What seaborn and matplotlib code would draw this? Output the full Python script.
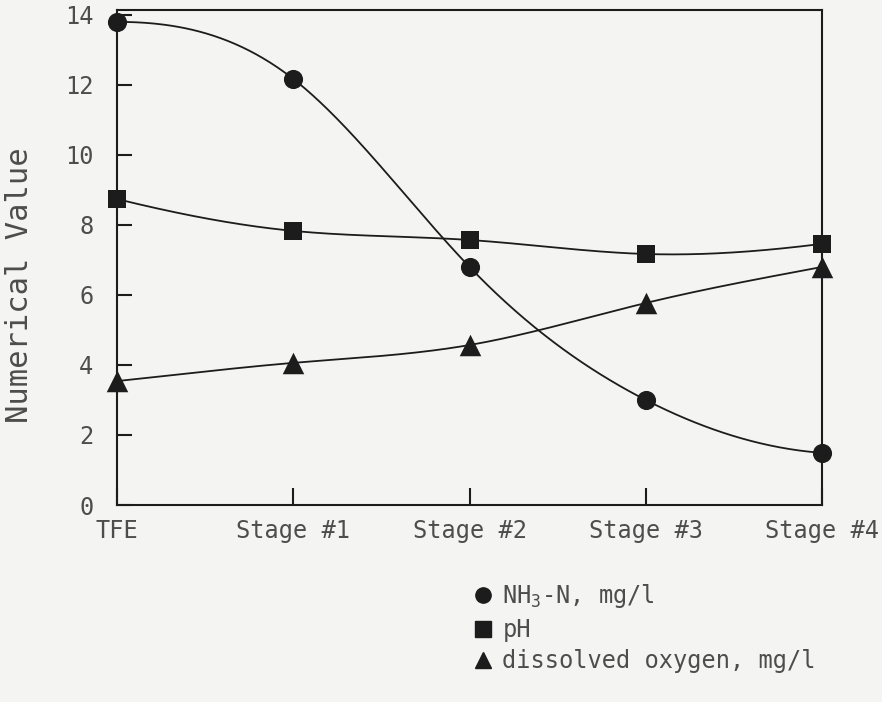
import numpy as np
import matplotlib
matplotlib.use("Agg")
import matplotlib.pyplot as plt
from matplotlib.lines import Line2D
import seaborn as sns

# Data
stages = ["TFE", "Stage #1", "Stage #2", "Stage #3", "Stage #4"]
nh3_n = [13.8, 12.17, 6.8, 3.0, 1.49]
ph = [8.74, 7.83, 7.57, 7.17, 7.46]
dissolved_oxygen = [3.54, 4.06, 4.57, 5.77, 6.8]
y_ticks = [0, 2, 4, 6, 8, 10, 12, 14]

series = [
    ("NH$_3$-N, mg/l", nh3_n, "o", 190),
    ("pH", ph, "s", 170),
    ("dissolved oxygen, mg/l", dissolved_oxygen, "^", 240),
]


# smooth curve through the points (clamped cubic spline, like a french curve)
def end_slope(a, b, ha, hb):
    e = ((2 * ha + hb) * a - ha * b) / (ha + hb)
    if np.sign(e) != np.sign(a):
        e = 0.0
    elif np.sign(a) != np.sign(b) and abs(e) > abs(3 * a):
        e = 3 * a
    return e


def smooth(x, y, xs):
    x = np.asarray(x, float)
    y = np.asarray(y, float)
    h = np.diff(x)
    d = np.diff(y) / h
    n = len(x)
    A = np.zeros((n, n))
    r = np.zeros(n)
    A[0, 0] = 1
    r[0] = end_slope(d[0], d[1], h[0], h[1])
    A[-1, -1] = 1
    r[-1] = end_slope(d[-1], d[-2], h[-1], h[-2])
    for i in range(1, n - 1):
        A[i, i - 1] = h[i]
        A[i, i] = 2 * (h[i - 1] + h[i])
        A[i, i + 1] = h[i - 1]
        r[i] = 3 * (h[i] * d[i - 1] + h[i - 1] * d[i])
    m = np.linalg.solve(A, r)
    idx = np.clip(np.searchsorted(x, xs) - 1, 0, n - 2)
    t = (xs - x[idx]) / h[idx]
    h00 = 2 * t**3 - 3 * t**2 + 1
    h10 = t**3 - 2 * t**2 + t
    h01 = -2 * t**3 + 3 * t**2
    h11 = t**3 - t**2
    return h00 * y[idx] + h10 * h[idx] * m[idx] + h01 * y[idx + 1] + h11 * h[idx] * m[idx + 1]


sns.set_style("white")
plt.rcParams["font.family"] = ["DejaVu Sans Mono"]
plt.rcParams["mathtext.default"] = "regular"

bg = "#f4f4f2"
ink = "#1c1c1c"
text_col = "#4d4d4d"

fig = plt.figure(figsize=(8.82, 7.02), dpi=100, facecolor=bg)
ax = fig.add_axes([0.1327, 0.2806, 0.7993, 0.7052], facecolor=bg)

xpos = np.arange(len(stages))
xs = np.linspace(0, len(stages) - 1, 300)

for label, values, marker, size in series:
    sns.lineplot(x=xs, y=smooth(xpos, values, xs), ax=ax, color=ink, linewidth=1.3)
    sns.scatterplot(x=xpos, y=values, ax=ax, marker=marker, s=size, color=ink,
                    edgecolor=ink, linewidth=0, clip_on=False, zorder=5)

ax.set_xlim(0, len(stages) - 1)
ax.set_ylim(0, 14.14)
ax.set_xticks(xpos)
ax.set_xticklabels(stages)
ax.set_yticks(y_ticks)
ax.set_yticklabels([str(v) for v in y_ticks])

for side in ["left", "bottom", "right", "top"]:
    ax.spines[side].set_visible(True)
    ax.spines[side].set_color(ink)
    ax.spines[side].set_linewidth(1.5)

ax.tick_params(axis="y", left=True, right=False, direction="in", length=11, width=1.5,
               color=ink, pad=17, labelsize=17, labelcolor=text_col)
ax.tick_params(axis="x", bottom=True, top=False, direction="in", length=12, width=1.5,
               color=ink, pad=10, labelsize=17, labelcolor=text_col)

ax.set_ylabel("Numerical Value", fontsize=22, color=text_col)
ax.yaxis.set_label_coords(-0.118, 0.445)

handles = [Line2D([], [], linestyle="none", marker=m, color=ink, markersize=11)
           for _, _, m, _ in series]
labels = [s[0] for s in series]
fig.legend(handles, labels, loc="upper left", bbox_to_anchor=(0.524, 0.184),
           frameon=False, fontsize=17, labelcolor=text_col, handletextpad=0.3,
           labelspacing=0.32, handlelength=1.0, borderaxespad=0)

fig.savefig("out.png", dpi=100, facecolor=bg)
